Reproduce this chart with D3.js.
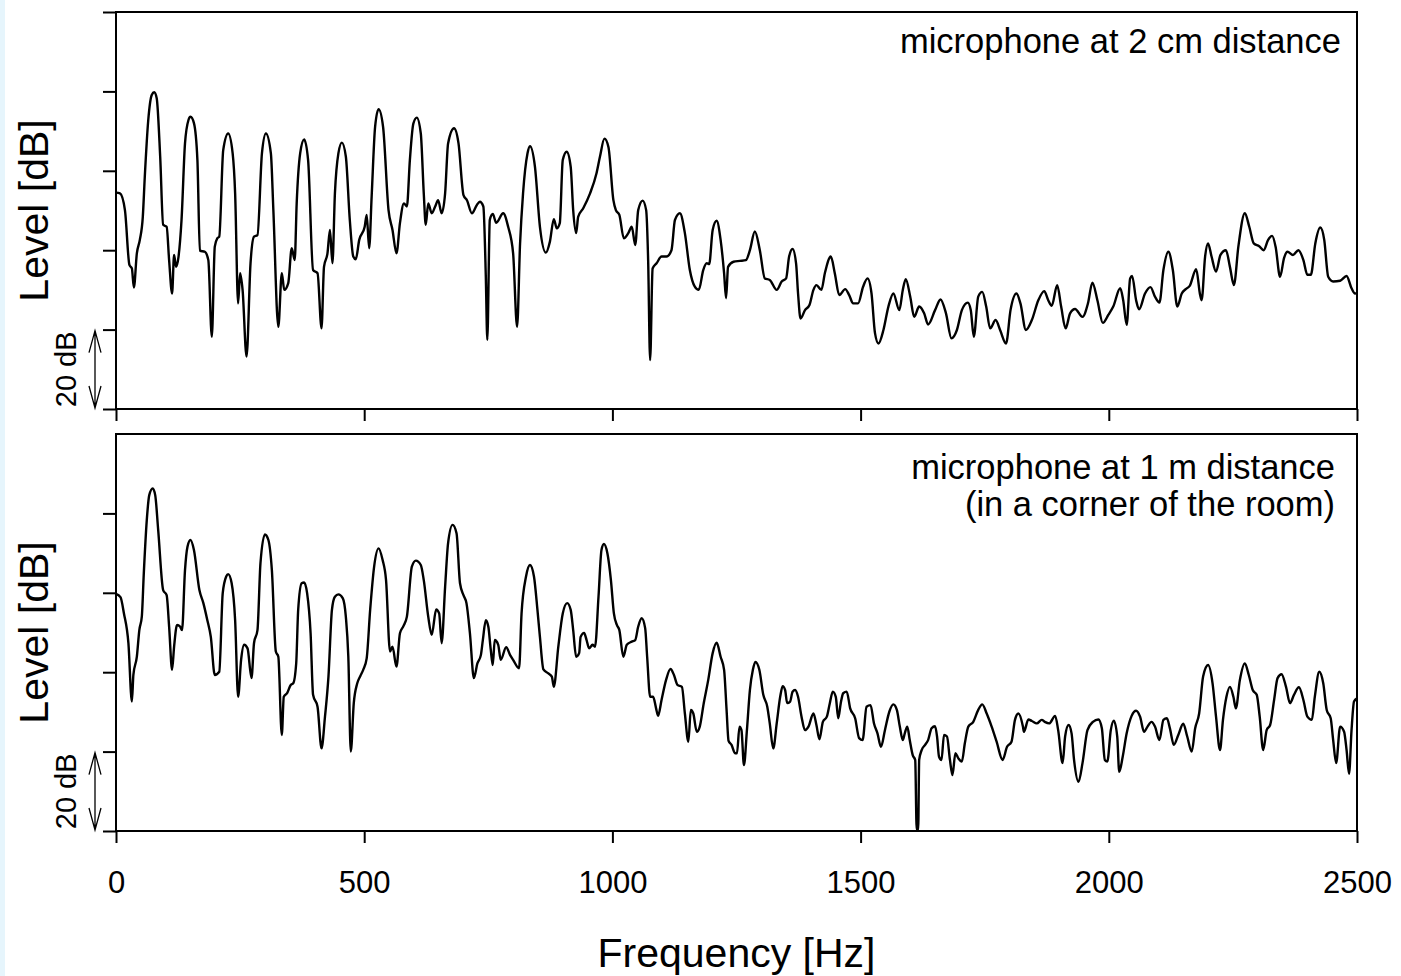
<!DOCTYPE html>
<html>
<head>
<meta charset="utf-8">
<script src="https://cdn.jsdelivr.net/npm/d3@7"></script>
<style>
  body { margin: 0; background: #fff; }
  svg { display: block; }
</style>
</head>
<body>
<div id="chart"></div>
<script>
// spectrum, microphone at 2 cm: [frequency Hz, level dB]
var near2cm = [[0,54.5],[8,54.3],[18,50.1],[27,36.3],[32,35.4],[36,30.6],[42,39.2],[48,42.6],[54,48.4],[58,58.5],[65,72.8],[72,79.1],[77,79.8],[82,78.3],[89,63.6],[95,46.4],[102,45.9],[107,37.5],[113,29.1],[117,38.8],[121,35.8],[126,38.4],[132,47.6],[139,66.9],[146,72.8],[150,73.6],[157,72.0],[164,62.7],[169,39.9],[179,39.6],[186,37.5],[193,18.2],[199,40.9],[204,43.0],[208,43.4],[216,65.2],[226,69.4],[235,64.4],[240,54.3],[246,26.6],[250,34.2],[255,30.0],[263,13.2],[271,36.7],[278,43.4],[285,43.8],[294,64.4],[302,69.4],[312,64.4],[317,50.1],[327,20.7],[334,34.2],[339,30.0],[347,31.7],[354,40.5],[360,37.5],[364,51.8],[371,64.4],[379,67.9],[387,62.7],[397,35.0],[406,34.2],[414,20.3],[419,35.8],[426,39.2],[431,45.1],[436,36.7],[441,54.3],[448,64.4],[455,67.1],[463,63.6],[471,47.6],[478,38.4],[483,37.7],[490,42.6],[501,45.9],[505,48.9],[510,40.5],[515,53.5],[522,71.1],[529,75.5],[538,71.1],[549,50.1],[557,45.1],[565,39.2],[572,46.8],[580,51.8],[586,51.0],[592,62.7],[599,71.9],[606,73.4],[614,69.4],[620,54.3],[624,46.4],[629,51.8],[636,49.3],[643,51.0],[649,52.6],[656,49.3],[663,54.3],[669,66.9],[681,70.7],[690,66.9],[700,53.9],[707,52.6],[717,49.3],[727,51.4],[733,52.2],[740,51.0],[745,33.3],[748,17.4],[753,47.6],[759,49.1],[766,46.9],[780,49.3],[790,45.9],[800,39.2],[808,20.7],[814,41.7],[820,54.3],[829,64.4],[834,66.2],[844,61.0],[854,45.9],[866,39.4],[874,42.1],[882,47.8],[888,45.5],[894,46.8],[900,62.7],[908,64.8],[916,61.0],[921,50.1],[927,44.3],[931,48.4],[941,50.5],[955,54.3],[968,59.4],[975,63.6],[984,68.1],[992,66.0],[1002,52.6],[1007,50.1],[1014,48.9],[1023,43.0],[1032,44.3],[1039,45.9],[1046,41.3],[1052,50.1],[1061,52.5],[1068,50.1],[1072,37.5],[1076,12.3],[1081,35.4],[1089,36.7],[1099,38.4],[1109,38.4],[1119,40.0],[1126,47.6],[1136,49.3],[1146,44.3],[1156,35.0],[1166,30.8],[1174,30.0],[1183,35.0],[1190,36.7],[1195,36.5],[1202,45.1],[1210,47.4],[1218,42.6],[1225,34.2],[1229,27.9],[1233,35.8],[1244,37.1],[1257,37.3],[1269,37.5],[1277,40.0],[1287,44.7],[1297,40.0],[1307,32.9],[1317,32.5],[1331,30.0],[1341,32.1],[1350,32.9],[1356,38.4],[1363,40.3],[1370,36.7],[1374,29.1],[1379,22.8],[1388,24.9],[1397,26.2],[1405,30.0],[1411,31.2],[1421,30.0],[1428,34.2],[1440,38.4],[1448,34.2],[1457,28.7],[1469,30.2],[1477,28.7],[1485,26.6],[1495,26.6],[1505,30.8],[1514,32.9],[1522,29.1],[1529,19.1],[1536,16.5],[1546,19.9],[1556,25.8],[1566,29.1],[1578,24.9],[1585,30.0],[1591,32.7],[1600,28.3],[1608,23.2],[1618,25.8],[1628,24.1],[1636,21.3],[1650,24.9],[1661,27.6],[1672,24.1],[1683,17.8],[1694,19.9],[1704,24.9],[1716,26.8],[1722,24.9],[1728,18.2],[1737,28.3],[1745,29.5],[1753,25.8],[1761,20.3],[1772,22.4],[1781,19.9],[1793,16.5],[1802,24.9],[1814,29.1],[1822,26.6],[1833,19.9],[1845,22.4],[1858,27.4],[1870,29.7],[1878,27.4],[1885,26.0],[1896,31.2],[1904,25.8],[1913,20.3],[1922,24.1],[1932,25.2],[1947,23.2],[1958,26.6],[1967,31.8],[1977,27.4],[1988,21.7],[1999,23.7],[2009,25.8],[2023,30.4],[2029,27.4],[2036,21.2],[2043,32.9],[2047,33.5],[2055,27.4],[2061,25.1],[2073,29.1],[2084,30.7],[2093,28.3],[2102,26.8],[2110,35.0],[2120,39.6],[2129,35.0],[2138,25.8],[2147,29.1],[2155,30.2],[2163,31.0],[2176,35.2],[2184,28.7],[2187,27.4],[2194,38.4],[2200,41.7],[2207,38.4],[2216,34.6],[2225,38.8],[2236,40.0],[2244,35.8],[2252,31.2],[2261,40.9],[2274,49.3],[2283,45.9],[2292,41.7],[2303,41.0],[2312,40.0],[2321,42.6],[2329,43.6],[2336,40.9],[2345,33.3],[2353,38.0],[2360,39.6],[2371,38.8],[2382,40.0],[2392,37.5],[2400,33.8],[2407,33.8],[2416,41.7],[2426,45.7],[2434,42.6],[2442,33.3],[2452,32.1],[2466,32.3],[2479,33.5],[2489,30.4],[2496,29.1],[2500,29.2]];

// spectrum, microphone at 1 m (room corner): [frequency Hz, level dB]
var far1m = [[0,59.7],[9,58.9],[16,54.8],[25,47.3],[32,32.6],[35,39.3],[42,43.9],[47,50.6],[52,54.0],[56,64.9],[62,78.3],[67,84.6],[74,86.3],[79,84.6],[85,75.8],[95,60.7],[102,59.4],[107,51.5],[113,40.6],[117,46.4],[123,51.9],[129,51.5],[133,50.6],[139,65.7],[144,71.6],[150,73.3],[157,70.8],[168,60.7],[176,57.4],[184,53.1],[191,48.9],[199,39.3],[208,40.1],[215,59.9],[222,64.1],[226,64.7],[233,62.4],[240,53.1],[246,33.8],[252,43.1],[258,46.9],[265,46.0],[273,38.5],[278,47.3],[285,50.6],[291,67.4],[300,74.7],[307,73.3],[314,65.7],[322,45.2],[327,43.9],[334,24.2],[338,33.8],[345,34.8],[352,36.8],[357,37.2],[363,42.2],[367,55.7],[374,62.4],[379,62.6],[385,59.9],[392,49.8],[397,34.3],[406,31.3],[414,20.8],[421,28.8],[428,38.9],[435,55.7],[441,59.0],[448,59.6],[457,58.6],[463,54.0],[468,43.9],[473,20.0],[479,32.2],[486,37.2],[492,39.0],[498,40.6],[505,43.5],[512,55.7],[520,66.6],[529,71.2],[537,68.3],[544,63.2],[552,45.2],[557,46.4],[565,41.4],[572,49.8],[579,51.6],[586,54.0],[596,66.6],[604,68.1],[614,67.0],[620,63.2],[629,54.0],[636,49.4],[645,55.8],[651,54.8],[656,47.3],[663,61.5],[669,72.5],[678,77.1],[686,75.0],[693,62.4],[700,59.4],[706,57.4],[713,49.8],[721,38.5],[728,42.2],[735,44.3],[739,48.1],[745,53.1],[750,51.5],[755,45.6],[759,41.8],[763,48.1],[770,46.9],[775,43.1],[786,46.3],[794,44.3],[800,43.1],[812,41.0],[817,54.8],[826,64.1],[834,67.0],[842,64.1],[849,55.7],[854,48.9],[861,40.7],[871,39.7],[878,38.9],[882,36.3],[891,46.4],[900,54.8],[909,57.4],[916,55.7],[921,50.6],[927,43.9],[933,44.8],[936,48.9],[943,49.9],[948,48.1],[953,46.0],[960,46.9],[965,46.4],[972,59.0],[978,70.8],[983,72.3],[990,69.9],[997,63.2],[1003,54.8],[1009,51.9],[1014,50.6],[1022,43.9],[1029,46.9],[1039,47.7],[1046,48.1],[1052,51.5],[1059,53.6],[1066,51.1],[1070,43.9],[1076,33.8],[1082,33.8],[1088,30.9],[1092,29.0],[1099,33.0],[1108,38.0],[1117,40.8],[1124,39.3],[1131,36.8],[1140,36.3],[1146,29.6],[1153,22.5],[1158,30.5],[1163,29.6],[1170,25.0],[1176,26.3],[1184,32.2],[1193,38.0],[1202,44.8],[1210,47.4],[1218,43.9],[1225,40.6],[1230,30.5],[1234,22.7],[1240,21.7],[1247,19.6],[1251,19.6],[1256,26.3],[1260,25.4],[1265,16.6],[1271,25.4],[1277,35.5],[1283,40.6],[1288,42.6],[1296,40.6],[1304,34.3],[1312,31.3],[1317,27.1],[1324,20.8],[1331,27.1],[1338,33.8],[1343,36.5],[1348,35.5],[1352,32.2],[1358,32.6],[1363,35.1],[1368,35.5],[1374,33.8],[1381,28.8],[1388,25.4],[1395,26.3],[1405,29.6],[1411,26.7],[1417,23.1],[1424,27.5],[1432,28.8],[1438,32.2],[1444,35.1],[1450,33.8],[1455,28.4],[1460,32.2],[1465,34.7],[1472,35.1],[1479,30.9],[1489,28.4],[1497,23.4],[1504,22.9],[1512,31.3],[1520,31.7],[1527,27.1],[1534,24.6],[1541,21.2],[1549,25.4],[1558,30.1],[1566,31.9],[1573,30.5],[1579,26.3],[1585,22.9],[1589,24.6],[1594,26.3],[1599,22.9],[1605,19.1],[1610,17.9],[1613,0.3],[1616,0.3],[1618,17.9],[1623,20.4],[1630,21.7],[1636,22.9],[1643,25.9],[1650,26.4],[1654,23.8],[1658,18.7],[1663,17.9],[1668,24.2],[1674,23.8],[1680,17.9],[1685,14.1],[1691,19.6],[1697,18.3],[1704,17.5],[1710,22.1],[1717,26.3],[1727,27.5],[1737,30.5],[1745,31.9],[1754,29.6],[1764,26.3],[1774,22.5],[1786,17.9],[1795,21.2],[1804,22.5],[1811,28.0],[1818,29.6],[1827,26.3],[1829,25.0],[1838,28.1],[1845,27.7],[1855,27.1],[1865,28.0],[1871,27.5],[1880,27.1],[1892,29.0],[1898,25.4],[1907,17.1],[1912,23.8],[1919,26.7],[1925,24.6],[1930,17.9],[1939,12.4],[1947,17.1],[1957,25.4],[1968,27.5],[1979,28.1],[1986,25.9],[1992,17.9],[1997,17.5],[2004,25.4],[2010,27.8],[2017,23.8],[2021,14.9],[2028,18.7],[2036,24.6],[2046,29.0],[2055,30.3],[2063,28.8],[2071,25.0],[2078,26.3],[2086,27.5],[2093,26.3],[2102,22.9],[2110,28.0],[2117,28.4],[2123,25.9],[2131,21.7],[2140,24.2],[2150,27.0],[2158,23.8],[2167,20.0],[2174,25.9],[2182,29.6],[2190,38.9],[2200,41.8],[2209,37.2],[2216,28.8],[2224,20.4],[2230,28.0],[2237,33.8],[2244,36.3],[2251,33.8],[2256,30.9],[2264,38.0],[2274,42.2],[2282,39.3],[2290,35.5],[2298,34.3],[2304,28.8],[2311,20.4],[2318,25.4],[2325,26.7],[2333,33.0],[2340,38.5],[2348,39.5],[2357,36.3],[2365,32.2],[2373,34.3],[2383,36.2],[2392,33.0],[2400,28.8],[2409,28.0],[2415,33.8],[2424,40.1],[2432,37.2],[2439,30.5],[2447,28.4],[2452,22.9],[2458,17.1],[2466,26.3],[2474,25.0],[2479,20.4],[2484,14.4],[2489,25.4],[2494,32.6],[2500,33.4]];

var freqTicks = [0, 500, 1000, 1500, 2000, 2500];
var levelTicksTop = [0, 20, 40, 60, 80, 100];
var levelTicksBottom = [0, 20, 40, 60, 80];
var labelTop = ["microphone at 2 cm distance"];
var labelBottom = ["microphone at 1 m distance", "(in a corner of the room)"];

var W = 1401, H = 976;
var font = "'Liberation Sans', Arial, Helvetica, sans-serif";

var svg = d3.select("#chart")
    .append("svg")
    .attr("width", W)
    .attr("height", H);

svg.append("rect").attr("width", W).attr("height", H).attr("fill", "#fff");
svg.append("rect").attr("width", 5).attr("height", H).attr("fill", "#e6f5fc");

var x = d3.scaleLinear().domain([0, 2500]).range([116, 1357]);

function panel(data, top, bottom, levelTicks, texts, textX, textY, showLabels){
    var y = d3.scaleLinear().domain([0, 100]).range([bottom, top]);

    var g = svg.append("g");

    g.append("g")
        .attr("transform", "translate(116,0)")
        .call(d3.axisLeft(y).tickValues(levelTicks).tickSize(13).tickFormat(""))
        .call(function(a){ a.select(".domain").remove(); })
        .selectAll("line").attr("stroke", "#000").attr("stroke-width", 2);

    var xa = g.append("g")
        .attr("transform", "translate(0," + bottom + ")")
        .call(d3.axisBottom(x).tickValues(freqTicks).tickSize(12).tickPadding(28)
            .tickFormat(showLabels ? d3.format("d") : ""));
    xa.select(".domain").remove();
    xa.selectAll("line").attr("stroke", "#000").attr("stroke-width", 2);
    xa.selectAll("text")
        .attr("fill", "#000")
        .attr("font-family", font)
        .attr("font-size", 31);

    var line = d3.line()
        .x(function(d){ return x(d[0]); })
        .y(function(d){ return y(d[1]); })
        .curve(d3.curveMonotoneX);

    g.append("path")
        .datum(data)
        .attr("d", line)
        .attr("fill", "none")
        .attr("stroke", "#000")
        .attr("stroke-width", 2.4)
        .attr("stroke-linejoin", "round");

    g.append("rect")
        .attr("x", 116).attr("y", top)
        .attr("width", 1357 - 116).attr("height", bottom - top)
        .attr("fill", "none").attr("stroke", "#000").attr("stroke-width", 2);

    g.append("text")
        .attr("transform", "translate(48," + (top + bottom) / 2 + ") rotate(-90)")
        .attr("text-anchor", "middle")
        .attr("font-family", font)
        .attr("font-size", 41)
        .text("Level [dB]");

    // 20 dB scale arrow
    var y0 = y(0), y1 = y(20), ax = 95;
    g.append("path")
        .attr("d", "M" + ax + "," + (y1 + 1) + "V" + (y0 - 1) +
            "M" + (ax - 6) + "," + (y1 + 23) + "L" + ax + "," + (y1 + 1) + "L" + (ax + 6) + "," + (y1 + 23) +
            "M" + (ax - 6) + "," + (y0 - 23) + "L" + ax + "," + (y0 - 1) + "L" + (ax + 6) + "," + (y0 - 23))
        .attr("fill", "none").attr("stroke", "#000").attr("stroke-width", 1.3);

    g.append("text")
        .attr("transform", "translate(76," + (y0 + y1) / 2 + ") rotate(-90)")
        .attr("text-anchor", "middle")
        .attr("font-family", font)
        .attr("font-size", 29)
        .text("20 dB");

    g.selectAll(".note")
        .data(texts)
        .enter()
        .append("text")
        .attr("x", textX)
        .attr("y", function(d, i){ return textY + i * 37; })
        .attr("text-anchor", "end")
        .attr("font-family", font)
        .attr("font-size", 34.5)
        .text(function(d){ return d; });
}

panel(near2cm, 12, 409, levelTicksTop, labelTop, 1341, 53, false);
panel(far1m, 434, 831, levelTicksBottom, labelBottom, 1335, 479, true);

svg.append("text")
    .attr("x", (116 + 1357) / 2)
    .attr("y", 967)
    .attr("text-anchor", "middle")
    .attr("font-family", font)
    .attr("font-size", 41)
    .text("Frequency [Hz]");
</script>
</body>
</html>
